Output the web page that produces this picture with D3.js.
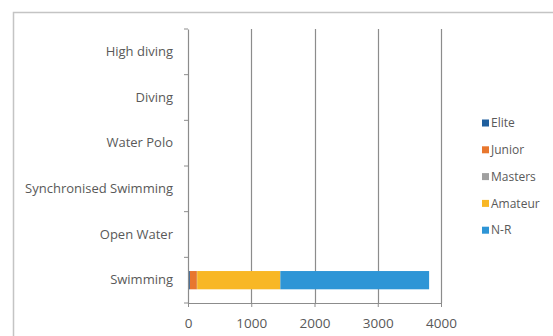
<!DOCTYPE html>
<html><head><meta charset="utf-8">
<script src="https://cdn.jsdelivr.net/npm/d3@7"></script>
<style>body{margin:0;background:#fff;}svg{display:block;}</style>
</head><body>
<script>
const categories = ["Swimming","Open Water","Synchronised Swimming","Water Polo","Diving","High diving"];
const seriesNames = ["Elite","Junior","Masters","Amateur","N-R"];
const elite   = [30, 0, 0, 0, 0, 0];
const junior  = [110, 0, 0, 0, 0, 0];
const masters = [5, 0, 0, 0, 0, 0];
const amateur = [1315, 0, 0, 0, 0, 0];
const nr      = [2352, 0, 0, 0, 0, 0];
const xTicks = [0, 1000, 2000, 3000, 4000];
const colors = ["#1F5F9E","#E8772E","#A0A0A0","#F8B725","#2E95D6"];

const W = 553, H = 336;
const m = {left:188, top:29, right:W-441, bottom:H-303};
const svg = d3.select("body").append("svg").attr("width",W).attr("height",H);

svg.append("rect").attr("x",13.5).attr("y",12.5).attr("width",W).attr("height",H)
  .attr("fill","none").attr("stroke","#c4c4c4").attr("stroke-width",1.5);

const x = d3.scaleLinear().domain([0,4000]).range([m.left, W-m.right]);
const y = d3.scaleBand().domain(categories).range([H-m.bottom, m.top]).paddingInner(0.6).paddingOuter(0.3);
const yb = d3.scaleBand().domain(categories).range([H-m.bottom, m.top]);

// gridlines
svg.append("g").selectAll("line").data(xTicks.slice(1)).join("line")
  .attr("x1",d=>Math.round(x(d))+0.5).attr("x2",d=>Math.round(x(d))+0.5)
  .attr("y1",m.top).attr("y2",H-m.bottom)
  .attr("stroke","#8c8c8c").attr("stroke-width",1.2);

const vals = [elite,junior,masters,amateur,nr];
const table = categories.map((c,i)=>{const o={cat:c}; seriesNames.forEach((s,j)=>o[s]=vals[j][i]); return o;});
const stack = d3.stack().keys(seriesNames)(table);

svg.append("g").selectAll("g").data(stack).join("g").attr("fill",(d,i)=>colors[i])
  .selectAll("rect").data(d=>d).join("rect")
  .attr("x",d=>x(d[0])).attr("width",d=>Math.max(0,x(d[1])-x(d[0])))
  .attr("y",d=>y(d.data.cat)).attr("height",y.bandwidth());

// x axis
const xa = svg.append("g").attr("transform",`translate(0,${H-m.bottom})`)
  .call(d3.axisBottom(x).tickValues(xTicks).tickSize(4).tickSizeOuter(0).tickFormat(d3.format("d")));
xa.select(".domain").attr("stroke","#8c8c8c").attr("stroke-width",1.2);
xa.selectAll(".tick line").attr("stroke","#8c8c8c");
xa.selectAll("text").attr("font-family","Open Sans").attr("font-size",13.5).attr("fill","#595959").attr("dy","1.3em");

// y axis
const ya = svg.append("g").attr("transform",`translate(${m.left},0)`)
  .call(d3.axisLeft(yb).tickSize(0).tickPadding(15));
ya.select(".domain").attr("stroke","#8c8c8c").attr("stroke-width",1.2);
ya.selectAll("text").attr("font-family","Open Sans").attr("font-size",13).attr("fill","#595959");
const bounds = d3.range(categories.length+1).map(i=>m.top + i*yb.step());
ya.append("g").selectAll("line").data(bounds).join("line")
  .attr("x1",-4).attr("x2",0).attr("y1",d=>d).attr("y2",d=>d).attr("stroke","#8c8c8c");

// legend
const lg = svg.append("g").selectAll("g").data(seriesNames).join("g")
  .attr("transform",(d,i)=>`translate(482,${123 + i*26.8})`);
lg.append("rect").attr("x",0).attr("y",-3.5).attr("width",7).attr("height",7).attr("fill",(d,i)=>colors[i]);
lg.append("text").attr("x",9).attr("dy","0.35em").text(d=>d)
  .attr("font-family","Open Sans").attr("font-size",12).attr("fill","#595959");
</script>
</body></html>
